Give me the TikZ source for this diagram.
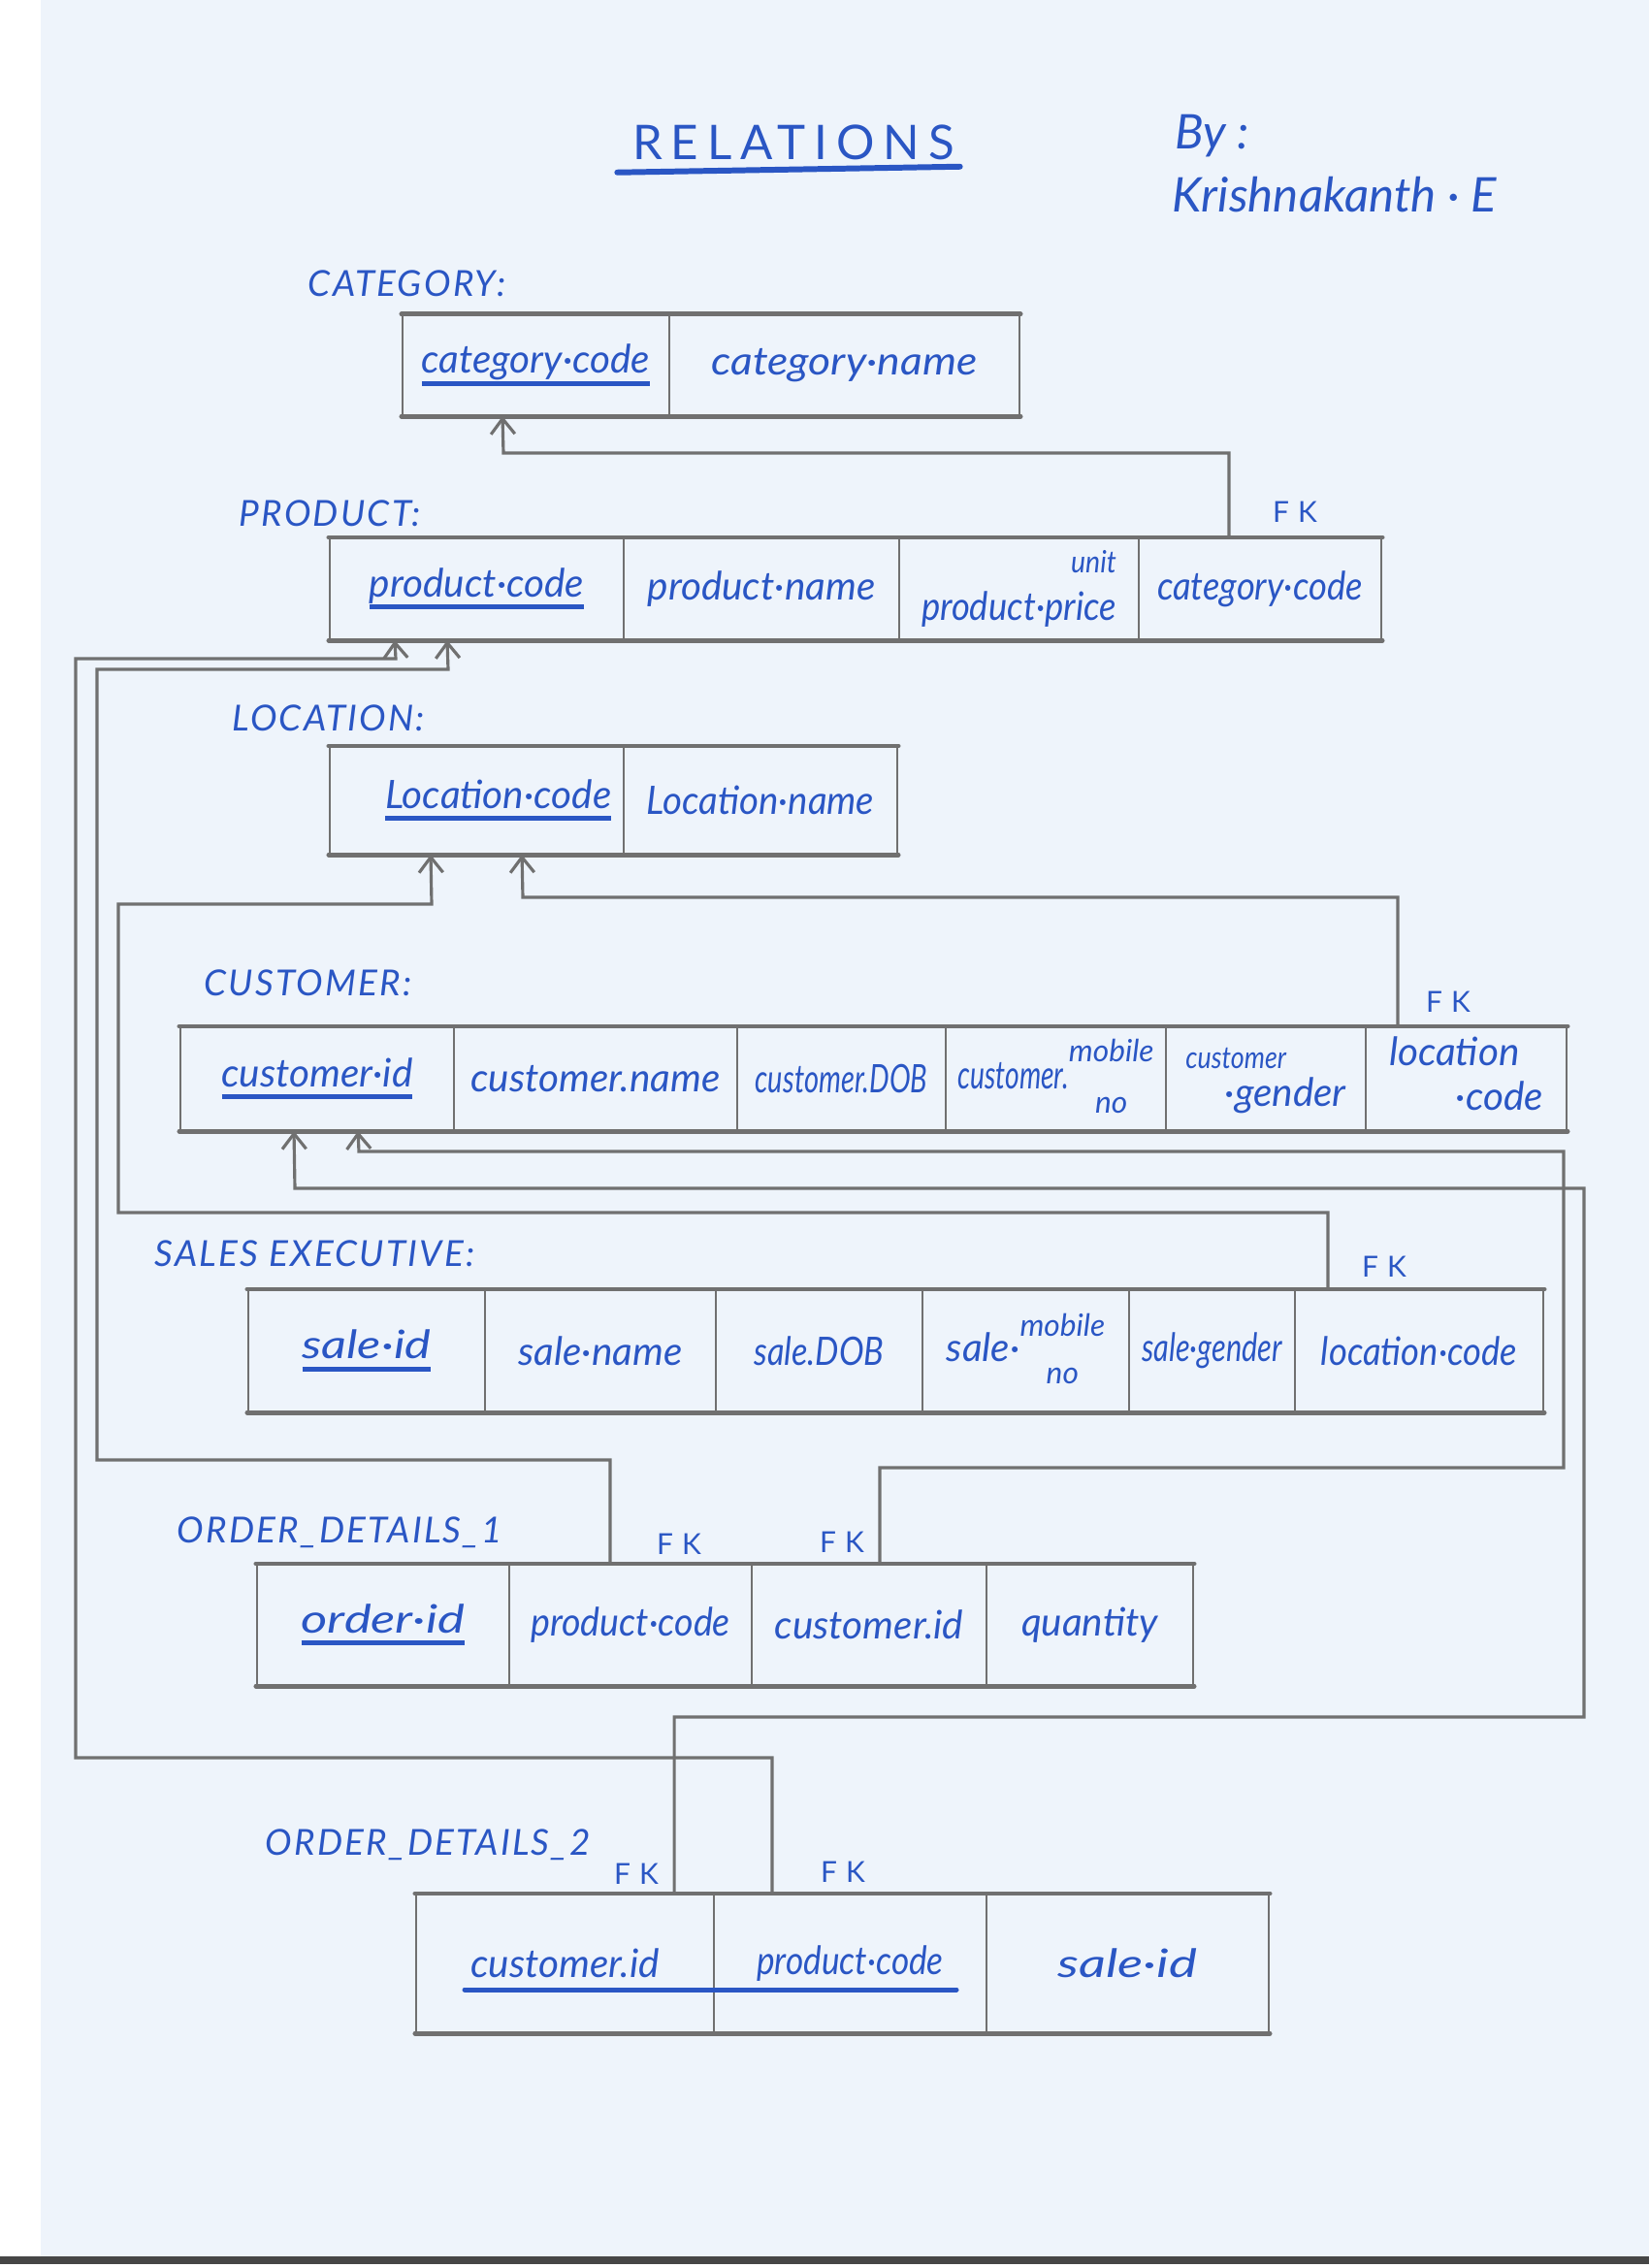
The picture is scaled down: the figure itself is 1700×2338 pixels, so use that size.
\documentclass[tikz,border=0pt]{standalone}
\usepackage{fontspec}
\usepackage{graphicx}
\usetikzlibrary{arrows.meta,calc}
\setmainfont{Lato}
\newfontfamily\hand{Lato}
\newcommand\smallhand{\fontsize{9}{10}\selectfont}

\definecolor{paper}{RGB}{238,244,251}
\definecolor{ink}{RGB}{42,86,196}
\definecolor{pencil}{RGB}{112,112,112}
\definecolor{scanbar}{RGB}{70,70,70}

% primary-key underline drawn in the ink colour
\newsavebox\pkeybox
\newcommand\pkey[1]{\sbox\pkeybox{#1}\rlap{\rule[-0.32em]{\wd\pkeybox}{1.4pt}}\usebox\pkeybox}

% one table cell: [horizontal text scale]{name}{left}{right}{top}{bottom}{text}
\newcommand\tcell[7][1]{%
  \node[cellbox, minimum width={(#4-#3)*0.01cm}, minimum height={(#6-#5)*0.01cm}]
    (#2) at ({(#3+#4)/2},{(#5+#6)/2}) {\scalebox{#1}[1]{#7}};}

\begin{document}
\begin{tikzpicture}[x=0.01cm, y=-0.01cm,
  cellbox/.style={draw=pencil, line width=0.6pt, inner sep=0pt, text=ink,
    font=\hand\itshape\fontsize{11.5}{13}\selectfont},
  rowedge/.style={draw=pencil, line width=1.4pt, line cap=round},
  fk/.style={draw=pencil, line width=0.9pt, -{Straight Barb[length=4.5pt,width=7pt]}},
  tlabel/.style={anchor=west, text=ink, inner sep=0pt,
    font=\hand\itshape\fontsize{10.5}{12}\selectfont\addfontfeature{LetterSpace=6}},
  fklabel/.style={text=ink, inner sep=0pt,
    font=\hand\fontsize{8.5}{10}\selectfont\addfontfeature{LetterSpace=30}},
  inkline/.style={draw=ink, line width=1.4pt, line cap=round}]

% sheet
\fill[white] (0,0) rectangle (1700,2338);
\fill[paper] (42,0) rectangle (1700,2326);
\fill[scanbar] (0,2326) rectangle (1700,2334);

% heading and author
\node[text=ink, inner sep=0pt, font=\hand\fontsize{14}{16}\selectfont\addfontfeature{LetterSpace=18}]
  (title) at (818,147) {RELATIONS};
\draw[inkline, line width=1.7pt] ($(title.south west)+(-15,12)$) -- ($(title.south east)+(5,6)$);
\node[anchor=west, text=ink, inner sep=0pt, font=\hand\itshape\fontsize{14}{16}\selectfont]
  (by) at (1211,140) {By :};
\node[anchor=west, text=ink, inner sep=0pt, font=\hand\itshape\fontsize{14}{16}\selectfont]
  (author) at (1208,201) {Krishnakanth · E};

% table captions
\node[tlabel] (capcat)  at (317,292)  {CATEGORY:};
\node[tlabel] (capprod) at (246,529)  {PRODUCT:};
\node[tlabel] (caploc)  at (239,740)  {LOCATION:};
\node[tlabel] (capcust) at (210,1013) {CUSTOMER:};
\node[tlabel] (capsale) at (159,1292) {SALES EXECUTIVE:};
\node[tlabel] (capod1)  at (182,1580) {ORDER\_DETAILS\_1};
\node[tlabel] (capod2)  at (273,1902) {ORDER\_DETAILS\_2};

% CATEGORY
\tcell{ccode}{415}{690}{325}{428}{\pkey{category·code}}
\tcell[1.1]{cname}{690}{1051}{325}{428}{category·name}
\draw[rowedge] (ccode.north west) -- (cname.north east);
\draw[rowedge] (ccode.south west) -- (cname.south east);

% PRODUCT
\tcell{pcode}{340}{643}{555}{659}{\pkey{product·code}}
\tcell{pname}{643}{927}{555}{659}{product·name}
\tcell[0.9]{pprice}{927}{1174}{555}{659}{product·price\llap{\raisebox{1.2em}{\smallhand unit}}}
\tcell[0.9]{pcat}{1174}{1424}{555}{659}{category·code}
\draw[rowedge] (pcode.north west) -- (pcat.north east);
\draw[rowedge] (pcode.south west) -- (pcat.south east);

% LOCATION
\tcell{lcode}{340}{643}{770}{880}{\hspace*{1.1em}\pkey{Location·code}}
\tcell[0.95]{lname}{643}{925}{770}{880}{Location·name}
\draw[rowedge] (lcode.north west) -- (lname.north east);
\draw[rowedge] (lcode.south west) -- (lname.south east);

% CUSTOMER
\tcell{cid}{186}{468}{1059}{1165}{\pkey{customer·id}}
\tcell{cnm}{468}{760}{1059}{1165}{customer.name}
\tcell[0.72]{cdob}{760}{975}{1059}{1165}{customer.DOB}
\tcell{cmob}{975}{1202}{1059}{1165}{\scalebox{0.7}[1]{customer.}\begin{tabular}{@{}c@{}}\smallhand mobile\\[2pt]\smallhand no\end{tabular}}
\tcell{cgen}{1202}{1408}{1059}{1165}{\begin{tabular}{@{}l@{}}\smallhand\scalebox{0.85}[1]{customer}\\[-2pt]\hspace{1em}·gender\end{tabular}}
\tcell{cloc}{1408}{1615}{1059}{1165}{\begin{tabular}{@{}l@{}}location\\[0pt]\hspace{1.7em}·code\end{tabular}}
\draw[rowedge] (cid.north west) -- (cloc.north east);
\draw[rowedge] (cid.south west) -- (cloc.south east);

% SALES EXECUTIVE
\tcell[1.25]{sid}{256}{500}{1330}{1455}{\pkey{sale·id}}
\tcell{snm}{500}{738}{1330}{1455}{sale·name}
\tcell[0.85]{sdob}{738}{951}{1330}{1455}{sale.DOB}
\tcell{smob}{951}{1164}{1330}{1455}{sale·\begin{tabular}{@{}c@{}}\smallhand mobile\\[1pt]\smallhand no\end{tabular}}
\tcell[0.76]{sgen}{1164}{1335}{1330}{1455}{sale·gender}
\tcell[0.9]{sloc}{1335}{1591}{1330}{1455}{location·code}
\draw[rowedge] (sid.north west) -- (sloc.north east);
\draw[rowedge] (sid.south west) -- (sloc.south east);

% ORDER_DETAILS_1
\tcell[1.3]{oid}{265}{525}{1613}{1737}{\pkey{order·id}}
\tcell[0.93]{opc}{525}{775}{1613}{1737}{product·code}
\tcell{ocid}{775}{1017}{1613}{1737}{customer.id}
\tcell{oqty}{1017}{1230}{1613}{1737}{quantity}
\draw[rowedge] (oid.north west) -- (oqty.north east);
\draw[rowedge] (oid.south west) -- (oqty.south east);

% ORDER_DETAILS_2 (composite key)
\tcell{tcid}{429}{736}{1953}{2095}{customer.id}
\tcell[0.87]{tpc}{736}{1017}{1953}{2095}{product·code}
\tcell[1.35]{tsid}{1017}{1308}{1953}{2095}{sale·id}
\draw[rowedge] (tcid.north west) -- (tsid.north east);
\draw[rowedge] (tcid.south west) -- (tsid.south east);
\draw[inkline] ([xshift=0.51cm,yshift=0.45cm]tcid.south west) -- ([xshift=-0.32cm,yshift=0.45cm]tpc.south east);

% FK markers
\node[fklabel] (fkprod) at (1335,528)  {FK};
\node[fklabel] (fkcust) at (1493,1033) {FK};
\node[fklabel] (fksale) at (1427,1306) {FK};
\node[fklabel] (fkod1a) at (700,1592)  {FK};
\node[fklabel] (fkod1b) at (868,1590)  {FK};
\node[fklabel] (fkod2a) at (656,1932)  {FK};
\node[fklabel] (fkod2b) at (869,1930)  {FK};

% foreign key references
\draw[fk] ([xshift=0.94cm]pcat.north west) |- (519,467) -- ([xshift=1.04cm]ccode.south west);
\draw[fk] ([xshift=0.61cm]tpc.north west) |- (78,1812) |- (408,679) -- ([xshift=0.68cm]pcode.south west);
\draw[fk] ([xshift=1.05cm]opc.north west) |- (100,1505) |- (462,690) -- ([xshift=1.22cm]pcode.south west);
\draw[fk] ([xshift=0.34cm]cloc.north west) |- (539,925) -- ([xshift=1.99cm]lcode.south west);
\draw[fk] ([xshift=0.35cm]sloc.north west) |- (122,1250) |- (445,932) -- ([xshift=1.05cm]lcode.south west);
\draw[fk] ([xshift=1.33cm]ocid.north west) |- (1612,1513) |- (370,1187) -- ([xshift=1.84cm]cid.south west);
\draw[fk] ([xshift=2.67cm]tcid.north west) |- (1633,1770) |- (304,1225) -- ([xshift=1.18cm]cid.south west);

\end{tikzpicture}
\end{document}
